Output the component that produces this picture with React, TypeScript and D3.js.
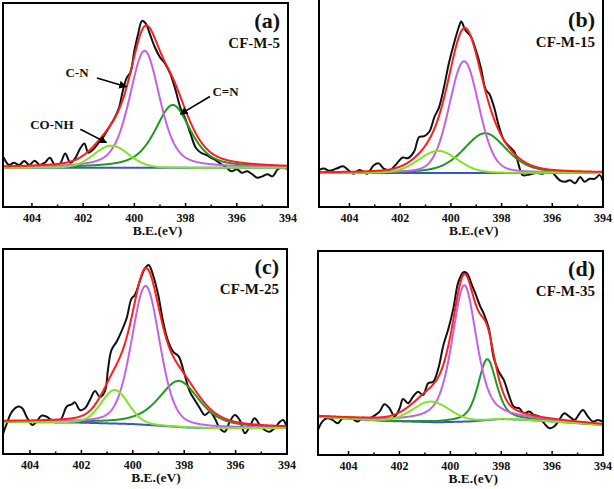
import React from "react";
import * as d3 from "d3";

// ---------- data ----------
const X_TICKS = [404, 402, 400, 398, 396, 394];
const X_MINOR = [403, 401, 399, 397, 395];
const PANEL_LETTERS = ["(a)", "(b)", "(c)", "(d)"];
const SAMPLE_NAMES = ["CF-M-5", "CF-M-15", "CF-M-25", "CF-M-35"];
const X_LABEL = "B.E.(eV)";

// measured spectra [B.E., intensity]
const dataA: [number, number][] = [
  [405.1, 0.07], [404.9, 0.02], [404.7, 0.035], [404.5, 0.02], [404.3, 0.047], [404.1, 0.02],
  [403.9, 0.05], [403.7, 0.02], [403.5, 0.035], [403.3, 0.07], [403.1, 0.02], [402.9, 0.03],
  [402.7, 0.1], [402.5, 0.035], [402.3, 0.07], [402.1, 0.14], [401.95, 0.17], [401.8, 0.105],
  [401.6, 0.13], [401.4, 0.175], [401.2, 0.22], [401.0, 0.28], [400.8, 0.34], [400.6, 0.42],
  [400.45, 0.54], [400.3, 0.63], [400.15, 0.67], [400.0, 0.82], [399.85, 0.94], [399.7, 1.03],
  [399.55, 1.01], [399.4, 0.94], [399.2, 0.845], [399.0, 0.775], [398.8, 0.73], [398.6, 0.66],
  [398.4, 0.55], [398.2, 0.42], [398.0, 0.34], [397.8, 0.235], [397.6, 0.14], [397.4, 0.105],
  [397.2, 0.09], [397.0, 0.07], [396.8, 0.05], [396.6, 0.025], [396.4, 0.0], [396.2, -0.025],
  [396.0, -0.01], [395.8, -0.035], [395.6, -0.025], [395.4, -0.045], [395.2, -0.07], [395.0, -0.06],
  [394.8, -0.045], [394.6, -0.06], [394.4, -0.01], [394.2, 0.0], [394.0, -0.01],
];
const dataB: [number, number][] = [
  [405.2, 0.02], [405.0, 0.03], [404.8, 0.014], [404.5, 0.03], [404.25, 0.045], [404.05, 0.02],
  [403.85, -0.005], [403.6, 0.02], [403.3, -0.005], [403.05, 0.05], [402.85, 0.065], [402.65, 0.03],
  [402.4, 0.02], [402.2, 0.05], [401.9, 0.105], [401.7, 0.1], [401.45, 0.145], [401.25, 0.245],
  [401.05, 0.25], [400.85, 0.28], [400.65, 0.38], [400.47, 0.445], [400.27, 0.585], [400.08, 0.745],
  [399.88, 0.88], [399.68, 0.995], [399.59, 1.03], [399.42, 0.97], [399.22, 0.93], [399.02, 0.84],
  [398.82, 0.72], [398.62, 0.565], [398.49, 0.54], [398.3, 0.45], [398.1, 0.315], [397.9, 0.22],
  [397.7, 0.18], [397.5, 0.145], [397.34, 0.065], [397.17, -0.015], [396.9, -0.01], [396.64, 0.0],
  [396.38, -0.005], [396.1, 0.02], [395.9, -0.015], [395.7, -0.05], [395.5, -0.06], [395.3, -0.05],
  [395.1, -0.07], [394.9, -0.027], [394.73, -0.06], [394.53, -0.04], [394.33, -0.04], [394.13, -0.015],
  [394.0, -0.06],
];
const dataC: [number, number][] = [
  [405.04, -0.053], [404.9, 0.01], [404.7, 0.085], [404.45, 0.118], [404.3, 0.107], [404.1, 0.043],
  [403.9, 0.0], [403.75, 0.02], [403.55, 0.06], [403.35, 0.053], [403.16, 0.032], [402.96, 0.02],
  [402.77, 0.043], [402.57, 0.118], [402.38, 0.132], [402.25, 0.145], [402.06, 0.096], [401.86, 0.107],
  [401.67, 0.16], [401.47, 0.218], [401.28, 0.18], [401.09, 0.214], [400.96, 0.363], [400.83, 0.48],
  [400.63, 0.534], [400.44, 0.6], [400.24, 0.684], [400.05, 0.81], [399.92, 0.833], [399.73, 0.92],
  [399.53, 1.004], [399.38, 1.026], [399.21, 0.96], [399.01, 0.833], [398.82, 0.662], [398.62, 0.534],
  [398.43, 0.47], [398.21, 0.438], [397.98, 0.32], [397.78, 0.214], [397.59, 0.16], [397.39, 0.107],
  [397.2, 0.064], [397.0, 0.085], [396.81, 0.043], [396.62, -0.02], [396.42, -0.043], [396.23, 0.02],
  [396.03, 0.064], [395.84, 0.032], [395.64, -0.053], [395.45, -0.01], [395.26, 0.043], [395.06, 0.0],
  [394.87, -0.032], [394.67, -0.043], [394.48, -0.02], [394.28, 0.02], [394.15, 0.032], [394.0, -0.017],
];
const dataD: [number, number][] = [
  [405.2, -0.068], [405.03, -0.011], [404.83, 0.011], [404.63, 0.0], [404.43, -0.023], [404.24, 0.011],
  [404.04, 0.016], [403.84, 0.007], [403.64, -0.011], [403.45, 0.016], [403.25, 0.007], [402.98, 0.03],
  [402.78, 0.057], [402.59, 0.107], [402.39, 0.08], [402.19, 0.023], [401.99, 0.08], [401.86, 0.143],
  [401.66, 0.114], [401.46, 0.16], [401.27, 0.193], [401.07, 0.17], [400.87, 0.25], [400.67, 0.261],
  [400.47, 0.352], [400.27, 0.511], [400.07, 0.625], [399.88, 0.761], [399.68, 0.943], [399.48, 1.007],
  [399.35, 1.0], [399.15, 0.92], [399.02, 0.864], [398.82, 0.773], [398.69, 0.727], [398.49, 0.625],
  [398.29, 0.42], [398.1, 0.33], [397.9, 0.273], [397.7, 0.17], [397.5, 0.09], [397.3, 0.08],
  [397.1, 0.045], [396.9, 0.057], [396.71, 0.034], [396.51, 0.023], [396.31, -0.023], [396.11, -0.057],
  [395.92, -0.045], [395.72, 0.0], [395.52, 0.045], [395.32, 0.023], [395.12, 0.0], [394.92, 0.045],
  [394.79, 0.068], [394.59, 0.023], [394.4, -0.011], [394.2, 0.0], [394.0, -0.011],
];

// backgrounds [B.E., intensity]
const baseA: [number, number][] = [[405.3, 0.0], [394.0, 0.0]];
const baseB: [number, number][] = [[405.3, 0.0], [394.0, 0.0]];
const baseC: [number, number][] = [[405.1, 0.02], [402, 0.015], [400, 0.006], [399, -0.004], [398, -0.015], [397, -0.02], [394, -0.02]];
const baseD: [number, number][] = [[405.3, 0.023], [402.5, -0.007], [400.5, -0.016], [399.2, -0.01], [398, 0.007], [397, 0.0], [396, -0.01], [394, -0.034]];

// fitted components: [center, height, fwhm, lorentz fraction]
const cnA = [399.6, 0.82, 1.4, 0.45];
const cdnA = [398.5, 0.44, 1.65, 0.6];
const conhA = [400.9, 0.155, 1.6, 0.1];
const cnB = [399.48, 0.76, 1.38, 0.2];
const cdnB = [398.65, 0.27, 2.0, 0.4];
const conhB = [400.5, 0.15, 1.8, 0.1];
const cnC = [399.5, 0.89, 1.3, 0.3];
const cdnC = [398.2, 0.295, 1.9, 0.6];
const conhC = [400.7, 0.215, 1.25, 0.15];
const cnD = [399.45, 0.93, 1.15, 0.55];
const cdnD = [398.55, 0.415, 0.85, 0.5];
const conhD = [400.75, 0.14, 1.7, 0.1];

// ---------- layout ----------
const frames = [
  { x0: 3, y0: 3, x1: 288, y1: 207, xd: [405.13, 394], yd: [-0.275, 1.155] },
  { x0: 319, y0: -1, x1: 603, y1: 207, xd: [405.2, 394], yd: [-0.232, 1.184] },
  { x0: 3, y0: 249, x1: 287, y1: 454, xd: [405.05, 394], yd: [-0.186, 1.128] },
  { x0: 318, y0: 251, x1: 603, y1: 455, xd: [405.2, 394], yd: [-0.239, 1.152] },
];
const datasets = [dataA, dataB, dataC, dataD];
const bases = [baseA, baseB, baseC, baseD];
const comps = [
  [cnA, cdnA, conhA],
  [cnB, cdnB, conhB],
  [cnC, cdnC, conhC],
  [cnD, cdnD, conhD],
];

const COL = {
  data: "#111111",
  fit: "#ff1e1e",
  cn: "#c462e6",
  cdn: "#1f9a1f",
  conh: "#84e324",
  base: "#3a55cc",
};
const FONT = "'Liberation Serif', 'Times New Roman', serif";

function pv(E: number, p: number[]) {
  const [c, h, w, eta] = p;
  const t = ((E - c) / w) ** 2;
  return h * (eta / (1 + 4 * t) + (1 - eta) * Math.exp(-4 * Math.LN2 * t));
}

function Panel({ i }: { i: number }) {
  const f = frames[i];
  const x = d3.scaleLinear().domain(f.xd).range([f.x0, f.x1]);
  const y = d3.scaleLinear().domain(f.yd).range([f.y1, f.y0]);
  const bl = bases[i];
  const bgScale = d3.scaleLinear().domain(bl.map((d) => d[0])).range(bl.map((d) => d[1])).clamp(true);
  const grid = d3.range(f.xd[0], f.xd[1] - 0.001, -0.02);
  const [cn, cdn, conh] = comps[i];
  const line = d3.line<[number, number]>().x((d) => x(d[0])).y((d) => y(d[1]));
  const smooth = d3.line<[number, number]>().x((d) => x(d[0])).y((d) => y(d[1])).curve(d3.curveCatmullRom.alpha(0.5));
  const bgPts = grid.map((E) => [E, bgScale(E)] as [number, number]);
  const compPts = (p: number[]) => grid.map((E) => [E, bgScale(E) + pv(E, p)] as [number, number]);
  const fitPts = grid.map((E) => [E, bgScale(E) + pv(E, cn) + pv(E, cdn) + pv(E, conh)] as [number, number]);
  const clipId = `clip${i}`;
  const sw = 2;
  return (
    <g>
      <defs>
        <clipPath id={clipId}>
          <rect x={f.x0} y={f.y0} width={f.x1 - f.x0} height={f.y1 - f.y0} />
        </clipPath>
      </defs>
      <g clipPath={`url(#${clipId})`} fill="none" strokeLinejoin="round" strokeLinecap="round">
        <path d={smooth(datasets[i]) || ""} stroke={COL.data} strokeWidth={2} />
        <path d={line(bgPts) || ""} stroke={COL.base} strokeWidth={sw} />
        <path d={line(compPts(cdn)) || ""} stroke={COL.cdn} strokeWidth={sw} />
        <path d={line(compPts(cn)) || ""} stroke={COL.cn} strokeWidth={sw} />
        <path d={line(compPts(conh)) || ""} stroke={COL.conh} strokeWidth={sw} />
        <path d={line(fitPts) || ""} stroke={COL.fit} strokeWidth={sw} />
      </g>
      <rect x={f.x0} y={f.y0} width={f.x1 - f.x0} height={f.y1 - f.y0} fill="none" stroke="#000" strokeWidth={2} />
      {X_TICKS.map((t) => (
        <g key={t}>
          <line x1={x(t)} x2={x(t)} y1={f.y1} y2={f.y1 - 4} stroke="#000" strokeWidth={1.5} />
          <text x={x(t)} y={f.y1 + 15} textAnchor="middle" fontFamily={FONT} fontWeight="bold" fontSize={12} fill="#111">
            {t}
          </text>
        </g>
      ))}
      {X_MINOR.map((t) => (
        <line key={t} x1={x(t)} x2={x(t)} y1={f.y1} y2={f.y1 - 2.5} stroke="#000" strokeWidth={1.5} />
      ))}
      <text x={x(399.1)} y={f.y1 + 28} textAnchor="middle" fontFamily={FONT} fontWeight="bold" fontSize={13.5} fill="#111">
        {X_LABEL}
      </text>
      <text x={f.x1 - 8} y={f.y0 + (i === 1 ? 28 : 25)} textAnchor="end" fontFamily={FONT} fontWeight="bold" fontSize={22} fill="#111">
        {PANEL_LETTERS[i]}
      </text>
      <text x={f.x1 - 8} y={f.y0 + (i === 1 ? 48 : 45)} textAnchor="end" fontFamily={FONT} fontWeight="bold" fontSize={15} fill="#111">
        {SAMPLE_NAMES[i]}
      </text>
    </g>
  );
}

function Annotations() {
  const f = frames[0];
  const x = d3.scaleLinear().domain(f.xd).range([f.x0, f.x1]);
  const y = d3.scaleLinear().domain(f.yd).range([f.y1, f.y0]);
  const notes = [
    { t: "C-N", tx: 402.24, ty: 0.669, a: [401.46, 0.629, 400.31, 0.568] },
    { t: "C=N", tx: 396.44, ty: 0.535, a: [397.05, 0.5, 398.2, 0.376] },
    { t: "CO-NH", tx: 403.22, ty: 0.31, a: [402.11, 0.27, 401.09, 0.176] },
  ];
  return (
    <g>
      <defs>
        <marker id="arr" viewBox="0 0 10 10" refX="9" refY="5" markerWidth="5" markerHeight="5" orient="auto">
          <path d="M0,0 L10,5 L0,10 z" fill="#000" />
        </marker>
      </defs>
      {notes.map((n) => (
        <g key={n.t}>
          <text x={x(n.tx)} y={y(n.ty) + 5} textAnchor="middle" fontFamily={FONT} fontWeight="bold" fontSize={13} fill="#111">
            {n.t}
          </text>
          <line x1={x(n.a[0])} y1={y(n.a[1])} x2={x(n.a[2])} y2={y(n.a[3])} stroke="#000" strokeWidth={1.6} markerEnd="url(#arr)" />
        </g>
      ))}
    </g>
  );
}

export default function App() {
  return (
    <svg width={614} height={489} style={{ position: "absolute", left: 0, top: 0, background: "#fff" }}>
      <rect width={614} height={489} fill="#fff" />
      {[0, 1, 2, 3].map((i) => (
        <Panel key={i} i={i} />
      ))}
      <Annotations />
    </svg>
  );
}
